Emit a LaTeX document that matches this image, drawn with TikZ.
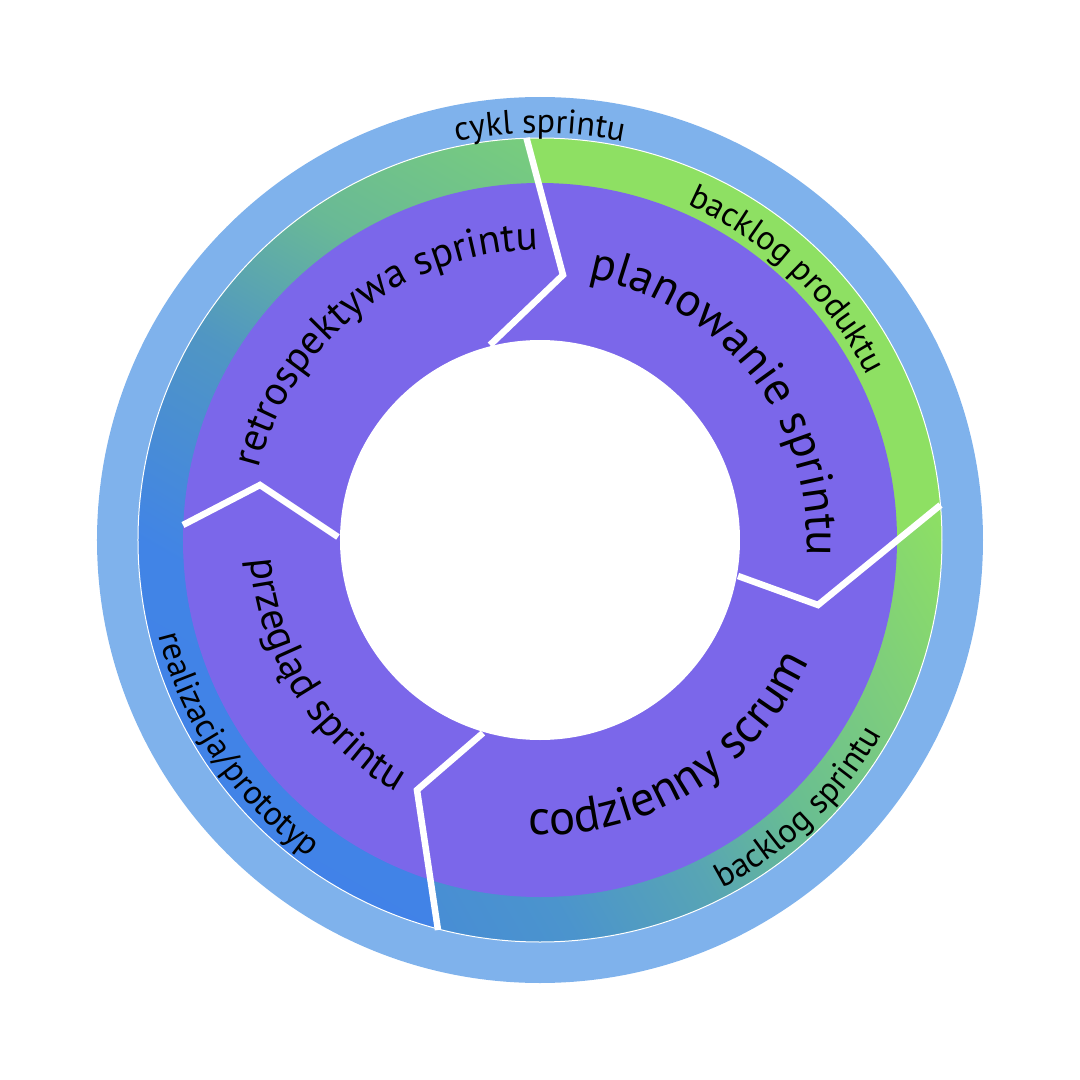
\documentclass[tikz,border=0pt]{standalone}
\usepackage{fontspec}
\setmainfont{PT Sans}
\usetikzlibrary{decorations.text}
\definecolor{ringblue}{RGB}{127,178,236}
\definecolor{segpurple}{RGB}{123,103,234}
\definecolor{ggreen}{RGB}{142,224,99}
\definecolor{la}{RGB}{65,130,232}
\definecolor{lb}{RGB}{65,132,230}
\definecolor{lc}{RGB}{80,150,195}
\definecolor{ld}{RGB}{105,185,150}
\definecolor{le}{RGB}{120,205,125}
\definecolor{lf}{RGB}{125,210,118}
\definecolor{ra}{RGB}{70,138,216}
\definecolor{rb}{RGB}{72,142,212}
\definecolor{rc}{RGB}{75,148,205}
\definecolor{rd}{RGB}{88,165,180}
\definecolor{re}{RGB}{105,190,145}
\definecolor{rf}{RGB}{125,205,125}
\pgfdeclarehorizontalshading{shadeL}{900bp}{color(0bp)=(la); color(250bp)=(lb); color(459bp)=(lc); color(620bp)=(ld); color(790bp)=(le); color(900bp)=(lf)}
\pgfdeclarehorizontalshading{shadeR}{900bp}{color(0bp)=(ra); color(176bp)=(rb); color(282bp)=(rc); color(424bp)=(rd); color(538bp)=(re); color(670bp)=(rf); color(814bp)=(ggreen); color(900bp)=(ggreen)}
\newcommand\fbig{\fontsize{47pt}{47pt}\selectfont}
\newcommand\fbigb{\fontsize{49pt}{49pt}\selectfont}
\newcommand\fmid{\fontsize{41pt}{41pt}\selectfont}
\newcommand\fsml{\fontsize{34pt}{34pt}\selectfont}
\tikzset{
  sepline/.style={white, line width=6.5pt, line join=miter, line cap=butt},
  arclabel/.style={decoration={text along path, text align=center, text={#1}}, decorate},
}
\begin{document}
\begin{tikzpicture}[x=1pt,y=1pt]
\useasboundingbox (-540pt,-540pt) rectangle (540pt,540pt);
% outer blue ring
\fill[ringblue] (0,0) circle[radius=443pt];
% gradient ring
\begin{scope}
  \clip (0,0) circle[radius=402pt];
  \fill[ggreen] (0,0) circle[radius=402pt];
  \begin{scope}
    \clip (23pt,265pt) -- (92.9:430pt) arc[start angle=92.9, end angle=256.9, radius=430pt] -- (-123pt,-250pt) -- cycle;
    \node[inner sep=0pt, outer sep=0pt, rotate=60] (gradL) at (0,0) {\pgfuseshading{shadeL}};
  \end{scope}
  \begin{scope}
    \clip (278pt,-65pt) -- (7.6:430pt) arc[start angle=7.6, end angle=-103.1, radius=430pt] -- (-123pt,-250pt) -- cycle;
    \node[inner sep=0pt, outer sep=0pt, rotate=30] (gradR) at (0,0) {\pgfuseshading{shadeR}};
  \end{scope}
\end{scope}
% purple ring and white centre
\fill[segpurple] (0,0) circle[radius=357pt];
\fill[white] (0,0) circle[radius=200pt];
\draw[white, line width=1pt] (0,0) circle[radius=402pt];
% separators
\draw[sepline] (-13.5pt,402pt) -- (23pt,265pt) -- (-50pt,195pt);
\draw[sepline] (400.5pt,35pt) -- (278pt,-65pt) -- (198pt,-36pt);
\draw[sepline] (-102pt,-390pt) -- (-123pt,-250pt) -- (-57pt,-193pt);
\draw[sepline] (-357pt,15pt) -- (-280pt,55pt) -- (-202pt,3pt);
% labels
\path[arclabel={|\fsml|cykl sprintu}] (130:407pt) arc[start angle=130, end angle=50, radius=407pt];
\path[arclabel={|\fsml|backlog produktu}] (80:366pt) arc[start angle=80, end angle=13, radius=366pt];
\path[arclabel={|\fsml|backlog sprintu}] (-80:393pt) arc[start angle=-80, end angle=-12, radius=393pt];
\path[arclabel={|\fsml|realizacja/prototyp}] (180:393pt) arc[start angle=180, end angle=248, radius=393pt];
\path[arclabel={|\fbig|planowanie sprintu}] (95:267pt) arc[start angle=95, end angle=-19, radius=267pt];
\path[arclabel={|\fmid|retrospektywa sprintu}] (180:290pt) arc[start angle=180, end angle=76, radius=290pt];
\path[arclabel={|\fmid|przegląd sprintu}] (173:290pt) arc[start angle=173, end angle=251, radius=290pt];
\path[arclabel={|\fbigb|codzienny scrum}] (255:295pt) arc[start angle=255, end angle=348.4, radius=295pt];
\end{tikzpicture}
\end{document}
